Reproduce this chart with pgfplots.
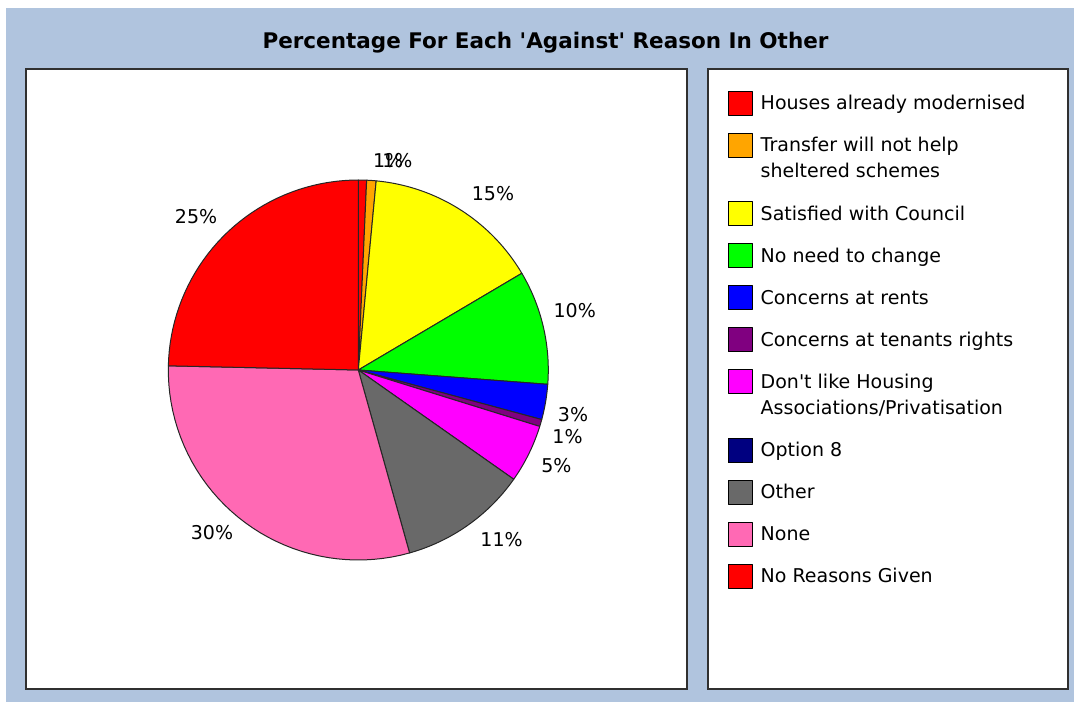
\documentclass[border=0pt]{standalone}
\usepackage{fontspec}
\setmainfont{DejaVu Sans}[Ligatures=TeXOff]
\usepackage{pgfplots}
\pgfplotsset{compat=1.18}
\definecolor{bgblue}{RGB}{176,196,222}
\definecolor{panelline}{RGB}{48,48,48}
\definecolor{cRed}{RGB}{255,0,0}
\definecolor{cOrange}{RGB}{255,165,0}
\definecolor{cYellow}{RGB}{255,255,0}
\definecolor{cGreen}{RGB}{0,255,0}
\definecolor{cBlue}{RGB}{0,0,255}
\definecolor{cPurple}{RGB}{128,0,128}
\definecolor{cMagenta}{RGB}{255,0,255}
\definecolor{cNavy}{RGB}{0,0,128}
\definecolor{cGray}{RGB}{105,105,105}
\definecolor{cPink}{RGB}{255,105,180}
\pgfplotsset{
  oneline/.style={legend image code/.code={\draw[##1,draw=black,line width=1pt] (0pt,-12pt) rectangle (24pt,12pt);}},
  twoline/.style={legend image code/.code={\draw[##1,draw=black,line width=1pt] (0pt,1pt) rectangle (24pt,25pt); \path (0pt,-25.5pt);}},
  slice/.style={draw=black!85, line width=1pt, line join=round, samples=40, variable=\t},
}
% percentages (clockwise from 12 o'clock)
\def\vA{0.7}   % Houses already modernised
\def\vB{0.8}   % Transfer will not help sheltered schemes
\def\vC{15.0}  % Satisfied with Council
\def\vD{9.7}   % No need to change
\def\vE{3.0}   % Concerns at rents
\def\vF{0.6}   % Concerns at tenants rights
\def\vG{4.95}  % Don't like Housing Associations/Privatisation
\def\vH{0}     % Option 8
\def\vI{10.9}  % Other
\def\vJ{29.7}  % None
\def\vK{24.65} % No Reasons Given
\begin{document}
\begin{tikzpicture}
\fill[white] (0pt,0pt) rectangle (1074pt,702pt);
\fill[bgblue] (6pt,0pt) rectangle (1074pt,694pt);
\draw[panelline, line width=2pt, fill=white] (26pt,13pt) rectangle (687pt,633pt);
\draw[panelline, line width=2pt, fill=white] (708pt,13pt) rectangle (1068pt,633pt);
\node[font=\bfseries\fontsize{21.5}{26}\selectfont] at (545.5pt,659pt) {Percentage For Each 'Against' Reason In Other};
\pgfmathsetmacro\aA{0}
\pgfmathsetmacro\aB{\aA+3.6*\vA}
\pgfmathsetmacro\aC{\aB+3.6*\vB}
\pgfmathsetmacro\aD{\aC+3.6*\vC}
\pgfmathsetmacro\aE{\aD+3.6*\vD}
\pgfmathsetmacro\aF{\aE+3.6*\vE}
\pgfmathsetmacro\aG{\aF+3.6*\vF}
\pgfmathsetmacro\aH{\aG+3.6*\vG}
\pgfmathsetmacro\aI{\aH+3.6*\vH}
\pgfmathsetmacro\aJ{\aI+3.6*\vI}
\pgfmathsetmacro\aK{\aJ+3.6*\vJ}
\pgfmathsetmacro\aL{\aK+3.6*\vK}
\begin{axis}[
  at={(358.3pt,332pt)}, anchor=center,
  x=190pt, y=190pt, xmin=-1, xmax=1, ymin=-1, ymax=1,
  scale only axis, enlargelimits=false, hide axis, clip=false,
  oneline,
  legend style={at={(axis description cs:1.4716,1.2355)}, anchor=north west,
    draw=none, fill=none, inner sep=0pt, row sep=17pt, column sep=8pt,
    font=\fontsize{19}{26}\selectfont,
    nodes={inner sep=0pt, text depth=0.15em},
    cells={anchor=west, align=left}},
]
\addplot[slice, fill=cRed, domain=\aA:\aB] ({sin(\t)},{cos(\t)}) -- (axis cs:0,0) -- cycle;
\addlegendentry{Houses already modernised}
\addplot[slice, fill=cOrange, twoline, domain=\aB:\aC] ({sin(\t)},{cos(\t)}) -- (axis cs:0,0) -- cycle;
\addlegendentry{Transfer will not help\\sheltered schemes}
\addplot[slice, fill=cYellow, domain=\aC:\aD] ({sin(\t)},{cos(\t)}) -- (axis cs:0,0) -- cycle;
\addlegendentry{Satisfied with Council}
\addplot[slice, fill=cGreen, domain=\aD:\aE] ({sin(\t)},{cos(\t)}) -- (axis cs:0,0) -- cycle;
\addlegendentry{No need to change}
\addplot[slice, fill=cBlue, domain=\aE:\aF] ({sin(\t)},{cos(\t)}) -- (axis cs:0,0) -- cycle;
\addlegendentry{Concerns at rents}
\addplot[slice, fill=cPurple, domain=\aF:\aG] ({sin(\t)},{cos(\t)}) -- (axis cs:0,0) -- cycle;
\addlegendentry{Concerns at tenants rights}
\addplot[slice, fill=cMagenta, twoline, domain=\aG:\aH] ({sin(\t)},{cos(\t)}) -- (axis cs:0,0) -- cycle;
\addlegendentry{Don't like Housing\\Associations/Privatisation}
\addlegendimage{fill=cNavy}
\addlegendentry{Option 8}
\addplot[slice, fill=cGray, domain=\aI:\aJ] ({sin(\t)},{cos(\t)}) -- (axis cs:0,0) -- cycle;
\addlegendentry{Other}
\addplot[slice, fill=cPink, domain=\aJ:\aK] ({sin(\t)},{cos(\t)}) -- (axis cs:0,0) -- cycle;
\addlegendentry{None}
\addplot[slice, fill=cRed, domain=\aK:\aL] ({sin(\t)},{cos(\t)}) -- (axis cs:0,0) -- cycle;
\addlegendentry{No Reasons Given}
\begin{scope}[every node/.style={font=\fontsize{19}{22}\selectfont, inner sep=0pt}]
\node at (axis cs:0.157,1.100) {1\%};
\node at (axis cs:0.206,1.100) {1\%};
\node at (axis cs:0.709,0.926) {15\%};
\node at (axis cs:1.139,0.313) {10\%};
\node at (axis cs:1.130,-0.234) {3\%};
\node at (axis cs:1.101,-0.350) {1\%};
\node at (axis cs:1.043,-0.503) {5\%};
\node at (axis cs:0.754,-0.892) {11\%};
\node at (axis cs:-0.770,-0.858) {30\%};
\node at (axis cs:-0.854,0.805) {25\%};
\end{scope}
\end{axis}
\end{tikzpicture}
\end{document}
